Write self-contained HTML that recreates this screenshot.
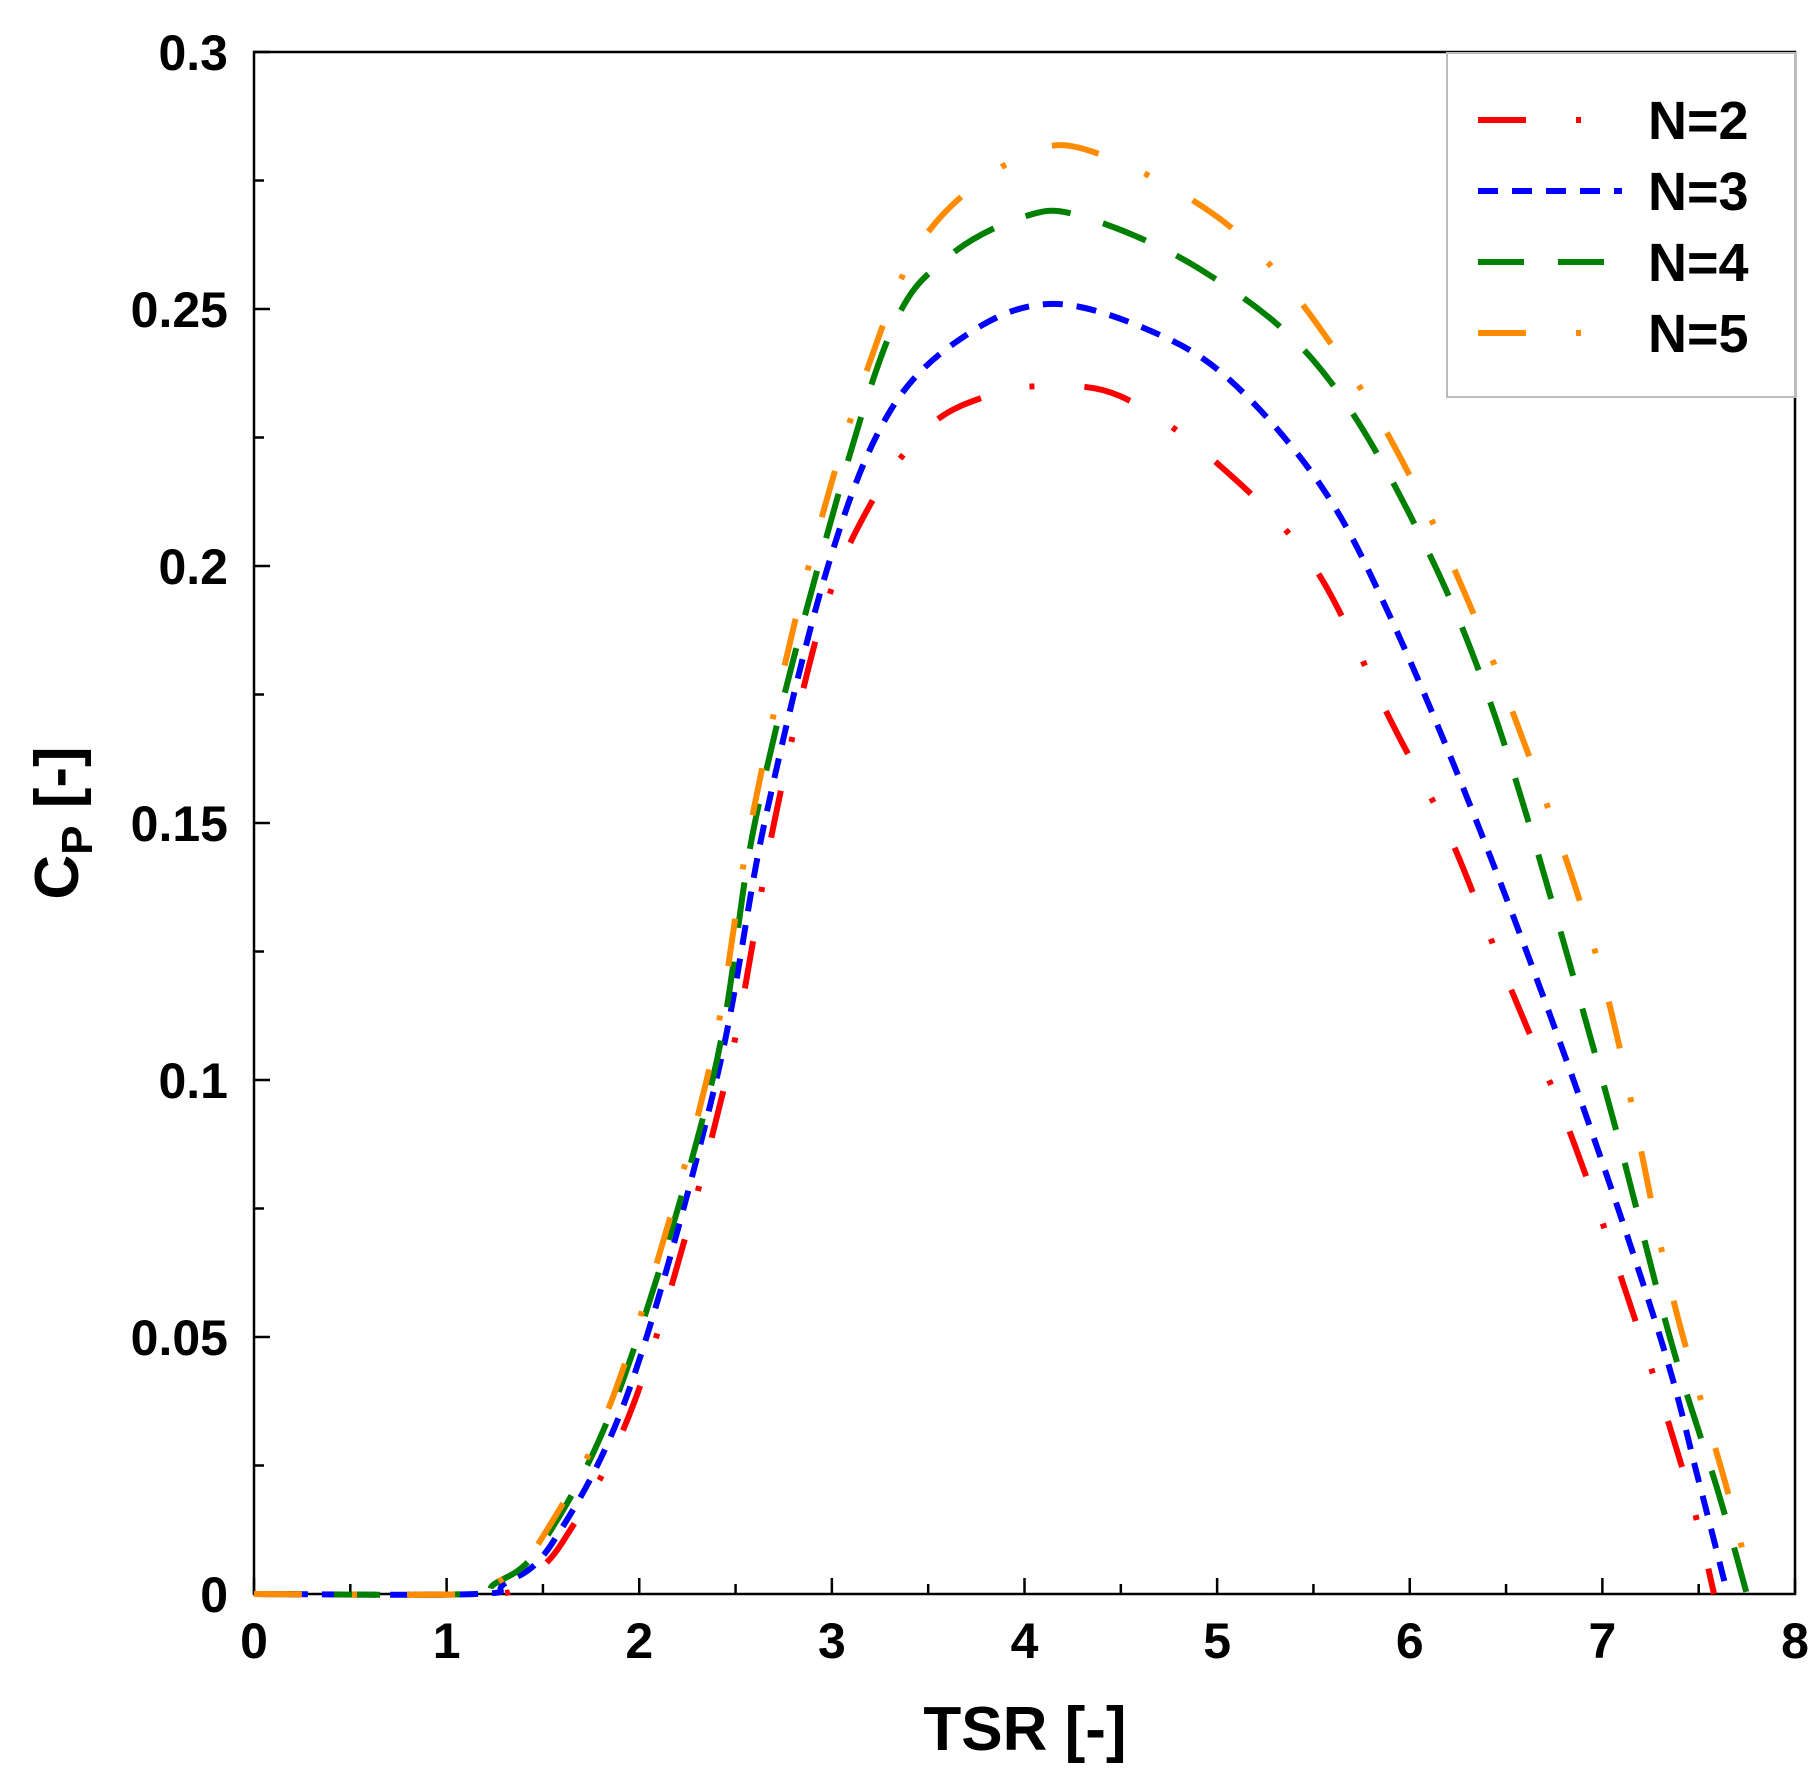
<!DOCTYPE html>
<html><head><meta charset="utf-8"><style>
html,body{margin:0;padding:0;background:#fff}
svg{display:block}
text{font-family:"Liberation Sans",Arial,sans-serif;font-weight:bold;fill:#000}
</style></head><body>
<svg id="chart" width="1820" height="1781" viewBox="0 0 1820 1781" xmlns="http://www.w3.org/2000/svg">
<g id="axes"></g>
<g id="series"></g>
<g id="legend"></g>
<text x="1025" y="1750" font-size="62" text-anchor="middle">TSR [-]</text>
<text transform="translate(78,823) rotate(-90)" font-size="62" text-anchor="middle">C<tspan font-size="44" dy="14">P</tspan><tspan dy="-14"> [-]</tspan></text>
</svg>
<script>
const xTicks=[0,1,2,3,4,5,6,7,8];
const yTicks=[0,0.05,0.1,0.15,0.2,0.25,0.3];
const yTickLabels=["0","0.05","0.1","0.15","0.2","0.25","0.3"];
const seriesNames=["N=2","N=3","N=4","N=5"];
const tsr2=[0,1.2,1.35,1.6,2.0,2.45,2.7,2.95,3.2,3.5,3.8,4.1,4.5,5.0,5.5,5.9,6.2,6.5,6.85,7.2,7.45,7.58];
const cp2=[0,0,0.002,0.01,0.04,0.1,0.15,0.19,0.212,0.227,0.233,0.235,0.233,0.22,0.2,0.17,0.148,0.12,0.088,0.05,0.02,0];
const tsr3=[0,1.15,1.3,1.55,1.95,2.4,2.65,2.98,3.3,3.7,4.15,4.7,5.1,5.55,5.9,6.35,6.85,7.3,7.5,7.65];
const cp3=[0,0,0.002,0.01,0.04,0.1,0.15,0.2,0.23,0.245,0.251,0.245,0.235,0.215,0.19,0.15,0.1,0.05,0.022,0];
const tsr4=[0,1.1,1.25,1.5,1.9,2.38,2.6,2.93,3.3,3.6,4.0,4.3,4.9,5.5,6.0,6.45,7.0,7.35,7.6,7.75];
const cp4=[0,0,0.002,0.01,0.04,0.1,0.15,0.2,0.245,0.26,0.268,0.268,0.258,0.24,0.21,0.17,0.1,0.05,0.02,0];
const tsr5=[0,1.1,1.25,1.48,1.88,2.35,2.58,2.88,3.2,3.5,4.0,4.4,5.1,5.65,6.1,6.55,7.0,7.35,7.65,7.78];
const cp5=[0,0,0.002,0.01,0.04,0.1,0.15,0.2,0.24,0.265,0.28,0.28,0.265,0.24,0.21,0.17,0.12,0.06,0.02,0];
const X0=254,X1=1795,Y0=1594,Y1=52;
const sx=v=>X0+(v-0)/(8-0)*(X1-X0);
const sy=v=>Y0-(v-0)/(0.3-0)*(Y0-Y1);
const NS="http://www.w3.org/2000/svg";
function mk(tag,attrs,parent){const e=document.createElementNS(NS,tag);for(const k in attrs)e.setAttribute(k,attrs[k]);parent.appendChild(e);return e;}
const axes=document.getElementById('axes');
const frame=mk('rect',{x:X0,y:Y1,width:X1-X0,height:Y0-Y1,fill:'none',stroke:'#000','stroke-width':2.5},axes);


for(let i=0;i<=16;i++){const v=i*0.5;const x=sx(v);const len=i%2===0?16:10;
 const t=mk('line',{x1:x,x2:x,y1:Y0,y2:Y0-len,stroke:'#000','stroke-width':2.5},axes);
 
 }
xTicks.forEach(v=>{const t=mk('text',{x:sx(v),y:Y0+64,'font-size':50,'text-anchor':'middle'},axes);t.textContent=v;
 
 });
for(let i=0;i<=12;i++){const v=i*0.025;const y=sy(v);const len=i%2===0?16:10;
 const t=mk('line',{x1:X0,x2:X0+len,y1:y,y2:y,stroke:'#000','stroke-width':2.5},axes);
 
 }
yTicks.forEach((v,i)=>{const t=mk('text',{x:X0-26,y:sy(v)+18,'font-size':50,'text-anchor':'end'},axes);t.textContent=yTickLabels[i];
 
 });
const styles=[{c:'#ff0000',d:'48 50 5 50'},{c:'#0000ff',d:'20 14'},{c:'#008000',d:'46 34'},{c:'#ff8c00',d:'48 50 5 50'}];
const data=[[tsr2,cp2],[tsr3,cp3],[tsr4,cp4],[tsr5,cp5]];
function smooth(xs,ys){const p=xs.map((x,i)=>[sx(x),sy(ys[i])]);let d=`M${p[0][0]},${p[0][1]}`;
 for(let i=0;i<p.length-1;i++){const a=p[i-1]||p[i],b=p[i],c=p[i+1],e=p[i+2]||c;
  d+=` C${b[0]+(c[0]-a[0])/6},${b[1]+(c[1]-a[1])/6} ${c[0]-(e[0]-b[0])/6},${c[1]-(e[1]-b[1])/6} ${c[0]},${c[1]}`;}
 return d;}
const sg=document.getElementById('series');
data.forEach((s,i)=>{const p=mk('path',{d:smooth(s[0],s[1]),fill:'none',stroke:styles[i].c,'stroke-width':6,'stroke-dasharray':styles[i].d},sg);
 
 });
const lg=document.getElementById('legend');
const box=mk('rect',{x:1447,y:53,width:348,height:344,fill:'#fff',stroke:'#bbb','stroke-width':2},lg);


seriesNames.forEach((n,i)=>{const y=120+i*71;
 const l=mk('line',{x1:1478,x2:1622,y1:y,y2:y,stroke:styles[i].c,'stroke-width':6,'stroke-dasharray':styles[i].d},lg);
 
 
 const t=mk('text',{x:1648,y:y+19,'font-size':54},lg);t.textContent=n;
 
 });
</script>
</body></html>
